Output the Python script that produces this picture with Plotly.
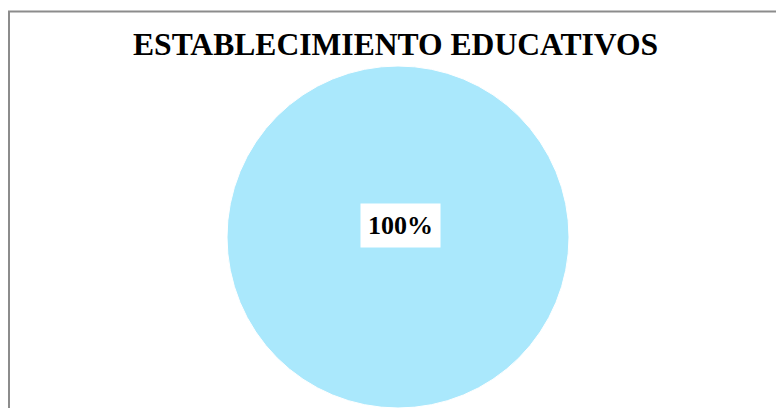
import plotly.graph_objects as go

title_text = "ESTABLECIMIENTO EDUCATIVOS"
categories = ["Establecimiento educativos"]
values = [100]
colors = ["#AAE8FC"]

W, H = 776, 408
total = sum(values)
pct_labels = [f"{round(v / total * 100)}%" for v in values]
serif = "Times New Roman, Liberation Serif, serif"

fig = go.Figure()
fig.add_trace(go.Pie(
    labels=categories,
    values=values,
    marker=dict(colors=colors, line=dict(color="white", width=1)),
    textinfo="none",
    hoverinfo="label+percent",
    sort=False,
    showlegend=False,
    domain=dict(x=[226 / W, 570 / W], y=[0, (H - 66) / H]),
))

fig.add_annotation(
    text=f"<b>{pct_labels[0]}</b>",
    x=400.5 / W, y=(H - 225) / H, xref="paper", yref="paper",
    showarrow=False,
    font=dict(family=serif, size=26, color="black"),
    bgcolor="white", borderpad=7, xanchor="center", yanchor="middle",
)

fig.add_annotation(
    text=f"<b>{title_text}</b>",
    x=395 / W, y=(H - 44.5) / H, xref="paper", yref="paper",
    showarrow=False,
    font=dict(family=serif, size=31.6, color="black"),
    xanchor="center", yanchor="middle",
)

fig.add_shape(
    type="rect", xref="paper", yref="paper",
    x0=9 / W, x1=1.05, y0=-0.05, y1=(H - 11.5) / H,
    line=dict(color="#8C8C8C", width=2),
    layer="below",
)

fig.update_layout(
    width=W, height=H,
    margin=dict(l=0, r=0, t=0, b=0),
    paper_bgcolor="white",
    plot_bgcolor="white",
)

fig.write_html("out.html")
